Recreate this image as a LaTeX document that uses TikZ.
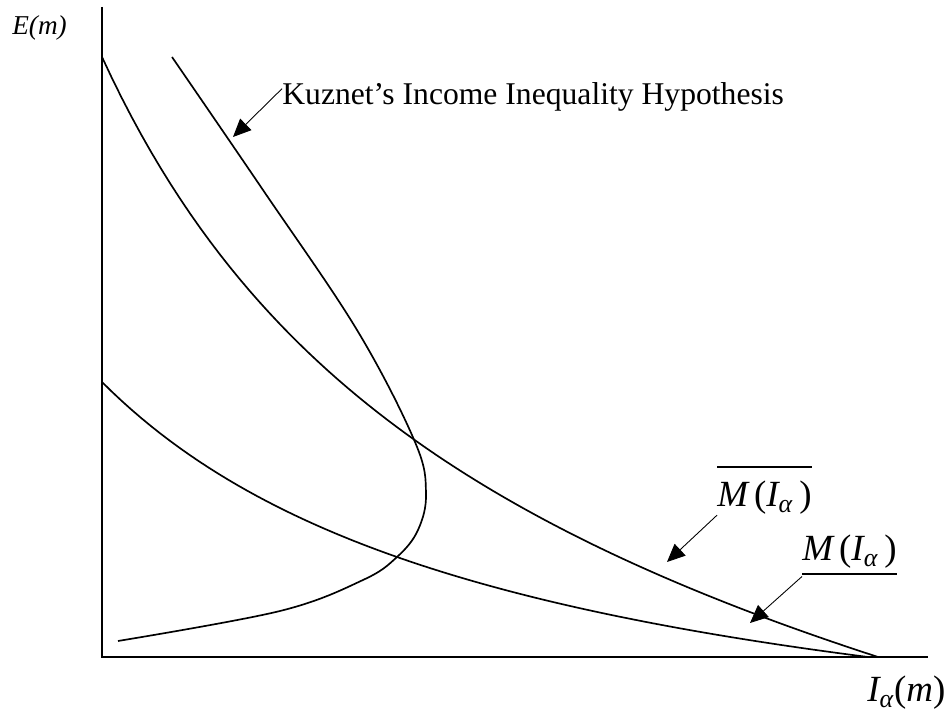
\documentclass[tikz,border=0pt]{standalone}
\usepackage{amsmath}
\usepackage{fontspec}
\setmainfont{Liberation Serif}
\usepackage{tikz}
\usetikzlibrary{arrows.meta}
\newcommand{\mi}[1]{\textit{#1}}
\newcommand{\ru}[1]{\textup{#1}}

\begin{document}
\begin{tikzpicture}[
  axis/.style={line width=1.1pt},
  curve/.style={line width=0.95pt},
  pointer/.style={line width=0.5pt, -{Triangle[length=0.36cm,width=0.32cm]}},
  every node/.style={inner sep=0pt}]
  \useasboundingbox (-2.04,-1.12) rectangle (16.86,13.14);

  % Axes
  \coordinate (O) at (0,0);
  \coordinate (ytop) at (0,13.0);
  \coordinate (xend) at (16.52,0);
  \draw[axis] (ytop) -- (O) -- (xend);

  % Upper curve
  \draw[curve] plot[domain=0:15.52, samples=80] (\x,{max(0,109.14/(\x+7.266)-3.02-0.114*\x)});
  % Lower curve
  \draw[curve] plot[domain=0:15.32, samples=80] (\x,{73.15/(\x+8.54)-3.066});
  % Kuznets curve
  \draw[curve] plot[smooth, tension=0.6] coordinates {(1.4,12.0) (3.22,9.34) (5.1,6.54) (6.26,4.3) (6.48,3.28) (6.32,2.54) (5.9,2.0) (5.22,1.54) (3.56,0.92) (0.32,0.32)};

  % Labels
  \node[anchor=base west, font=\fontsize{15.5}{18}\selectfont\itshape] (Elab) at (-1.8,12.44) {E(m)};
  \node[anchor=base west, font=\fontsize{18}{21}\selectfont] (kuz) at (3.6,11.04) {Kuznet’s Income Inequality Hypothesis};
  \node[anchor=base west, font=\fontsize{21}{25}\selectfont] (mbar) at (12.3,3.0) {$\overline{\rule{0pt}{0.95em}\mi{M}\,\ru{(}\mi{I}_{\mi{α}}\,\ru{)}}$};
  \node[anchor=base west, font=\fontsize{21}{25}\selectfont] (mlow) at (14.0,1.92) {$\underline{\mi{M}\,\ru{(}\mi{I}_{\mi{α}}\,\ru{)}}$};
  \node[anchor=base west, font=\fontsize{21}{25}\selectfont] (Ilab) at (15.3,-0.9) {$\mi{I}_{\mi{α}}\ru{(}\mi{m}\ru{)}$};

  % Pointers
  \coordinate (kuztip) at (2.62,10.4);
  \coordinate (mbartip) at (11.3,1.9);
  \coordinate (mlowtip) at (12.96,0.68);
  \draw[pointer] ([yshift=-0.12cm]kuz.north west) -- (kuztip);
  \draw[pointer] (mbar.south west) -- (mbartip);
  \draw[pointer] (mlow.south west) -- (mlowtip);
\end{tikzpicture}
\end{document}
